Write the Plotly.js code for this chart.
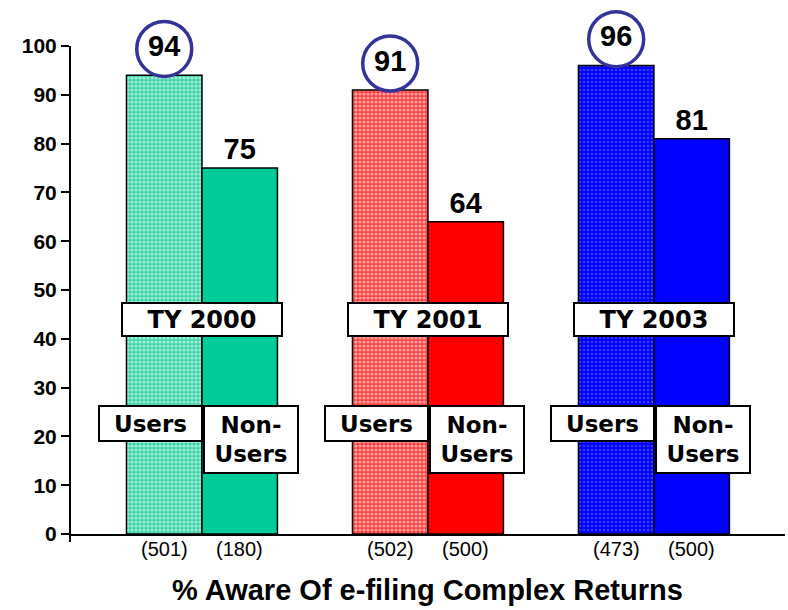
<!DOCTYPE html>
<html>
<head>
<meta charset="utf-8">
<script src="https://cdn.plot.ly/plotly-3.0.1.min.js"></script>
<style>html,body{margin:0;padding:0;background:#fff;}#chart{width:788px;height:610px;}</style>
</head>
<body>
<div id="chart"></div>
<script>
// ---- data ----
const groups = ['TY 2000', 'TY 2001', 'TY 2003'];
const usersPct = [94, 91, 96];
const nonUsersPct = [75, 64, 81];
const usersN = ['(501)', '(502)', '(473)'];
const nonUsersN = ['(180)', '(500)', '(500)'];
const yTickVals = [0, 10, 20, 30, 40, 50, 60, 70, 80, 90, 100];
const usersLabel = 'Users';
const nonUsersLabel = 'Non-<br>Users';
const chartTitle = '% Aware Of e-filing Complex Returns';

// ---- styles ----
const nonUserColors = ['#00CC99', '#FF0000', '#0000FF'];
const userBg = ['#3dd3a6', '#ff3b3b', '#0000ff'];
const userFg = ['#a2eed8', '#ffa4a4', '#3c3cff'];
const userSolidity = [0.5, 0.5, 0.35];
const circleColor = '#333399';

const BARGAP = 0.332;
const half = (1 - BARGAP) / 4; // offset of each bar centre from group centre
const idx = groups.map((g, i) => i);
const circleLift = 5.4;
const PLOT_H = 534, PX_PER_UNIT = 4.88;
const yMax = PLOT_H / PX_PER_UNIT;

const BOLD = {family: 'Liberation Sans, Arial, sans-serif', weight: 'bold', color: '#000'};
const BOXF = {family: 'DejaVu Sans, Verdana, sans-serif', weight: 'bold', color: '#000'};

const traces = [];
// Users bars: one trace per group so each can carry its own pattern colours
idx.forEach(i => {
  traces.push({
    type: 'bar', name: 'Users ' + groups[i], x: [i], y: [usersPct[i]], offsetgroup: 'users',
    marker: {
      color: userBg[i],
      line: {color: '#000', width: 1.5},
      pattern: {shape: '.', fillmode: 'replace', bgcolor: userBg[i], fgcolor: userFg[i], fgopacity: 1, size: 4, solidity: userSolidity[i]}
    },
    hoverinfo: 'skip'
  });
});
traces.push({
  type: 'bar', name: 'Non-Users', x: idx, y: nonUsersPct, offsetgroup: 'nonusers',
  marker: {color: nonUserColors, line: {color: '#000', width: 1.5}},
  text: nonUsersPct.map(String), textposition: 'outside', cliponaxis: false,
  outsidetextfont: Object.assign({size: 29}, BOLD),
  hoverinfo: 'skip'
});
traces.push({
  type: 'scatter', mode: 'markers+text',
  x: idx.map(i => i - half), y: usersPct.map(v => v + circleLift),
  text: usersPct.map(String), textposition: 'middle center',
  textfont: Object.assign({size: 29}, BOLD),
  marker: {symbol: 'circle', size: 55, color: '#fff', line: {color: circleColor, width: 3.5}},
  cliponaxis: false, hoverinfo: 'skip'
});

const annotations = [];
groups.forEach((g, i) => {
  annotations.push({
    xref: 'x', yref: 'y', x: i, y: 43.95, text: g, showarrow: false,
    font: Object.assign({size: 24}, BOXF), bgcolor: '#fff', bordercolor: '#000', borderwidth: 2, borderpad: 0,
    width: 158, height: 31, xanchor: 'center', yanchor: 'middle'
  });
  annotations.push({
    xref: 'x', yref: 'y', x: i - 0.228, y: 22.6, text: usersLabel, showarrow: false,
    font: Object.assign({size: 23}, BOXF), bgcolor: '#fff', bordercolor: '#000', borderwidth: 2, borderpad: 0,
    width: 101, height: 33, xanchor: 'center', yanchor: 'middle'
  });
  annotations.push({
    xref: 'x', yref: 'y', x: i + 0.217, y: 19.4, text: nonUsersLabel, showarrow: false,
    font: Object.assign({size: 23}, BOXF), bgcolor: '#fff', bordercolor: '#000', borderwidth: 2, borderpad: 0,
    width: 92, height: 65, xanchor: 'center', yanchor: 'middle'
  });
  [[i - half, usersN[i]], [i + half, nonUsersN[i]]].forEach(([xx, t]) => {
    annotations.push({
      xref: 'x', yref: 'paper', x: xx, y: -0.028, text: t, showarrow: false,
      font: {family: 'Liberation Sans, Arial, sans-serif', size: 20, color: '#000'},
      xanchor: 'center', yanchor: 'middle'
    });
  });
});
annotations.push({
  xref: 'paper', yref: 'paper', x: 0.5, y: -0.105, text: chartTitle, showarrow: false,
  font: Object.assign({size: 29}, BOLD), xanchor: 'center', yanchor: 'middle'
});

const layout = {
  width: 788, height: 610,
  margin: {l: 70, r: 3, t: 0, b: 76},
  paper_bgcolor: '#fff', plot_bgcolor: '#fff',
  showlegend: false,
  barmode: 'group', bargap: BARGAP, bargroupgap: 0,
  xaxis: {
    range: [-0.584, 2.58], showline: true, linecolor: '#000', linewidth: 2,
    showticklabels: false, ticks: '', showgrid: false, zeroline: false, fixedrange: true
  },
  yaxis: {
    range: [0, yMax], tickvals: yTickVals, ticks: 'outside', ticklen: 8, tickwidth: 2, tickcolor: '#000',
    showline: false, showgrid: false, zeroline: false,
    tickfont: Object.assign({size: 21}, BOLD), fixedrange: true
  },
  shapes: [
    {type: 'line', xref: 'paper', yref: 'y', x0: 0, x1: 0, y0: 0, y1: 100, line: {color: '#000', width: 2}},
    {type: 'line', xref: 'paper', yref: 'paper', x0: 0, x1: 0, y0: 0, y1: -8 / PLOT_H, line: {color: '#000', width: 2}}
  ],
  annotations: annotations
};

Plotly.newPlot('chart', traces, layout, {displayModeBar: false, staticPlot: true});
</script>
</body>
</html>
